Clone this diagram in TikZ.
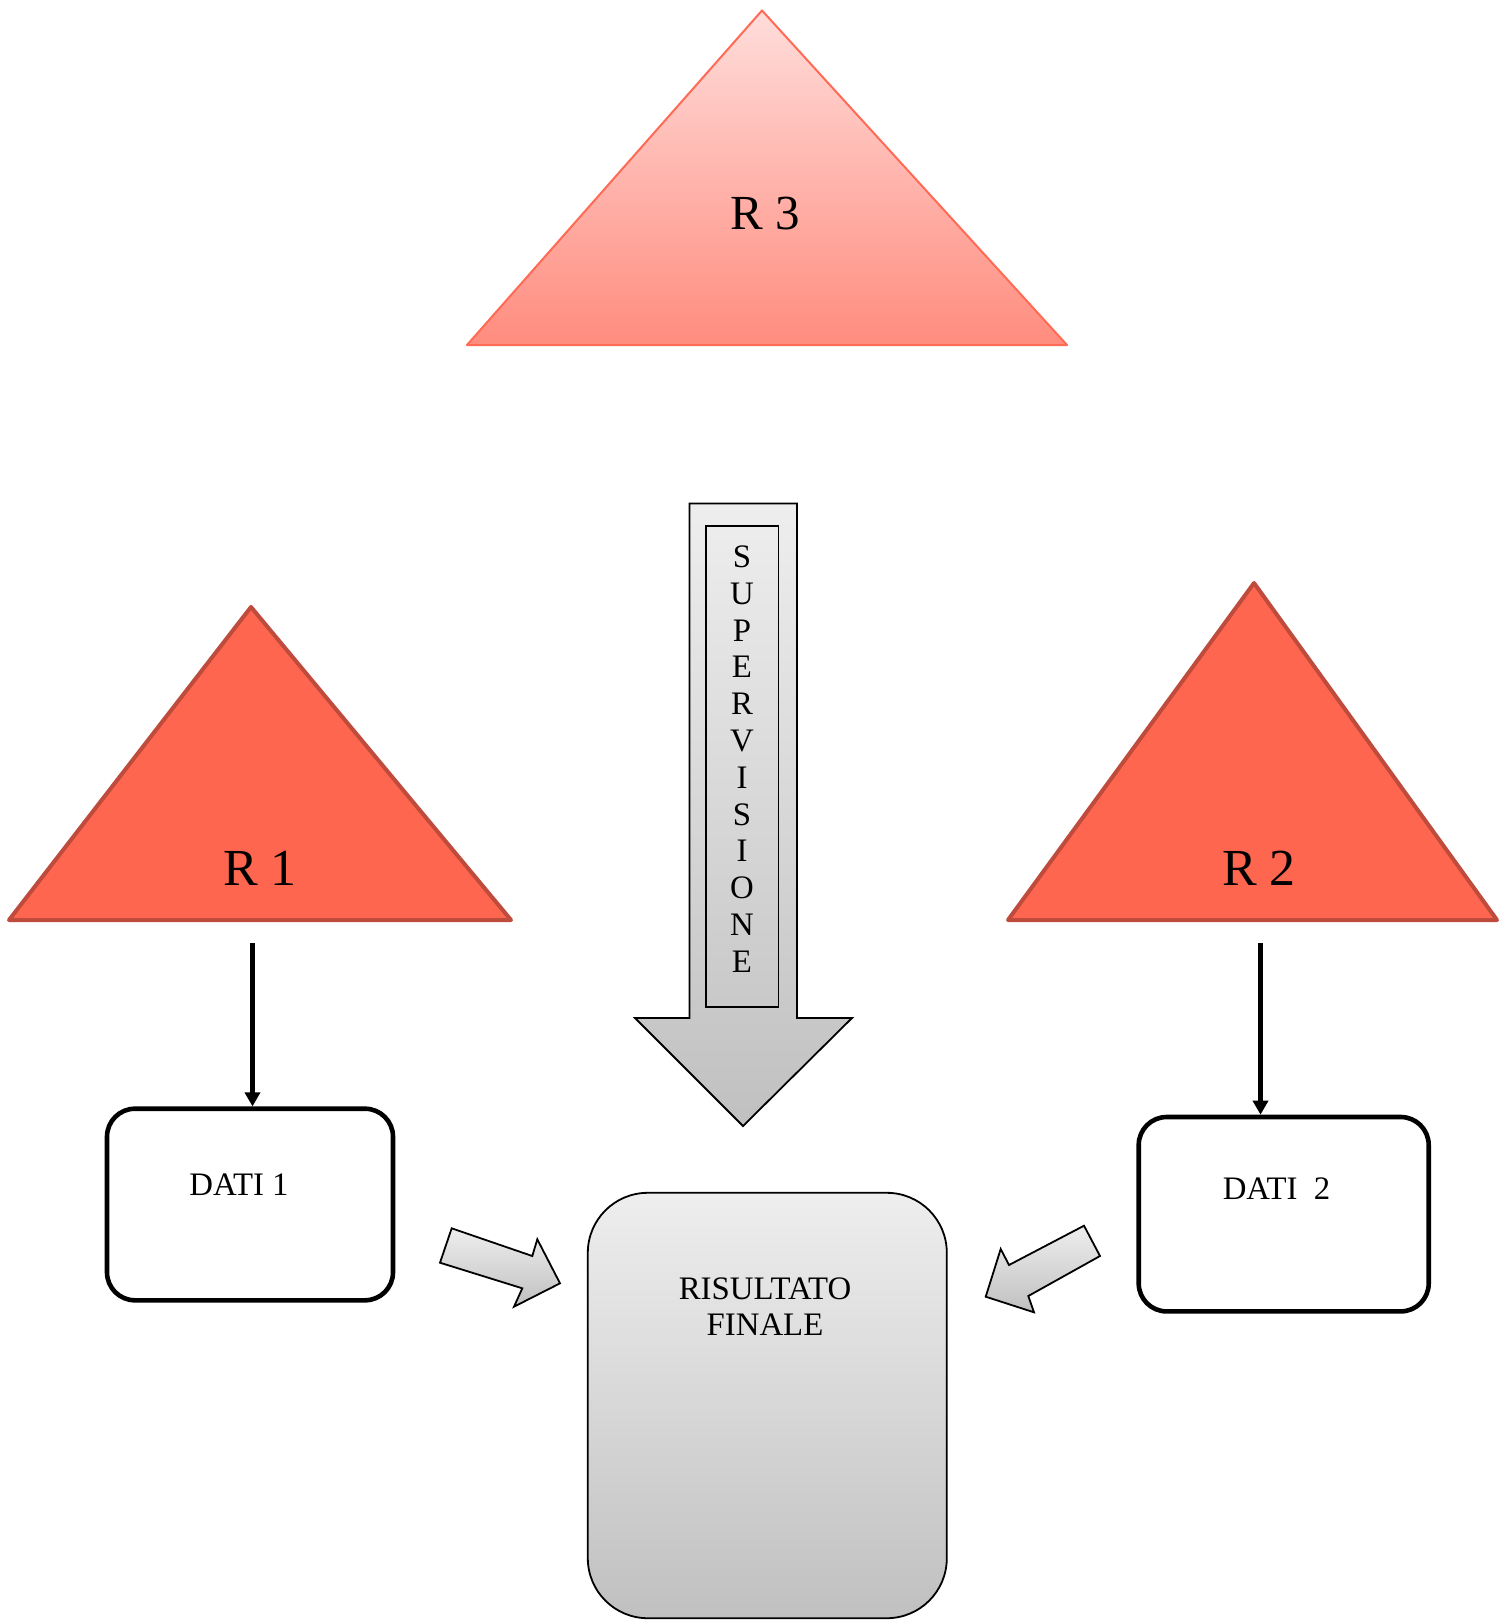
\documentclass[tikz,border=0pt]{standalone}
\usepackage{fontspec}
\setmainfont{Liberation Serif}
\usetikzlibrary{arrows.meta}

\definecolor{rfill}{RGB}{255,102,79}
\definecolor{rline}{RGB}{190,75,60}
\definecolor{rtop}{RGB}{255,221,219}
\definecolor{rbot}{RGB}{255,140,126}
\definecolor{rthin}{RGB}{255,106,85}
\definecolor{gtop}{RGB}{238,238,238}
\definecolor{gbot}{RGB}{192,192,192}

\begin{document}
\begin{tikzpicture}[x=0.5pt,y=-0.5pt,
  redtri/.style={fill=rfill,draw=rline,line width=2pt,line join=round},
  paletri/.style={top color=rtop,bottom color=rbot,draw=rthin,line width=1pt,line join=round},
  bigtext/.style={font=\fontsize{26}{30}\selectfont,inner sep=0pt},
  smalltext/.style={font=\fontsize{16.4}{18.4}\selectfont,inner sep=0pt},
  databox/.style={draw=black,line width=2.3pt,rounded corners=14pt,inner sep=0pt,minimum width=143pt},
  grayshade/.style={top color=gtop,bottom color=gbot,draw=black,line width=0.9pt,line join=miter},
  flow/.style={line width=2.3pt,-{Triangle[length=7pt,width=7.5pt]}}
]
\useasboundingbox (0,0) rectangle (1499,1621);

% top supervisor triangle
\draw[paletri] (762,10.5) -- (1067,345) -- (467,345) -- cycle;
\node[bigtext,font=\fontsize{24.5}{28}\selectfont,anchor=base] (r3) at (765,229.5) {R 3};

% two lower triangles
\draw[redtri] (251,607) -- (511,920) -- (9,920) -- cycle;
\node[bigtext,anchor=base] (r1) at (260,885) {R 1};
\draw[redtri] (1254,583) -- (1497,920) -- (1008,920) -- cycle;
\node[bigtext,anchor=base] (r2) at (1259,885) {R 2};

% supervision arrow
\draw[grayshade] (689.5,503.5) -- (797,503.5) -- (797,1018) -- (852,1018)
  -- (743,1126) -- (635,1018) -- (689.5,1018) -- cycle;
\draw[line width=0.7pt] (706,526) rectangle (778.5,1007);
\node[smalltext,align=center] (supv) at (742,759)
  {S\\U\\P\\E\\R\\V\\I\\S\\I\\O\\N\\E};

% data boxes
\node[databox,minimum height=95.8pt] (dati1) at (250,1204.5) {};
\node[smalltext,anchor=base] (dati1txt) at (239,1195.7) {DATI 1};
\node[databox,minimum width=145pt,minimum height=97.2pt] (dati2) at (1283.7,1214.2) {};
\node[smalltext,anchor=base] (dati2txt) at (1276.5,1199.3) {DATI\ \ 2};

% result box
\node[grayshade,rounded corners=30pt,minimum width=179.5pt,minimum height=212.7pt,inner sep=0pt]
  (ris) at (767.3,1405.5) {};
\node[smalltext,anchor=base] (ris1) at (765,1299) {RISULTATO};
\node[smalltext,anchor=base] (ris2) at (765,1335) {FINALE};

% arrows from triangles to data
\coordinate (r1out) at (252.5,943);
\coordinate (r2out) at (1260.5,943);
\draw[flow] (r1out) -- (r1out |- dati1.north);
\draw[flow] (r2out) -- (r2out |- dati2.north);

% block arrows into the result
\draw[grayshade] (451.7,1228.3) -- (532.3,1256) -- (537.3,1239.3) -- (560,1283.3)
  -- (514,1306.7) -- (522.3,1288.3) -- (440,1262.7) -- cycle;
\draw[grayshade] (1084,1225.7) -- (1009,1265) -- (1000.7,1249) -- (985.7,1296.7)
  -- (1034,1312.3) -- (1028.3,1296) -- (1100,1256) -- cycle;
\end{tikzpicture}
\end{document}
